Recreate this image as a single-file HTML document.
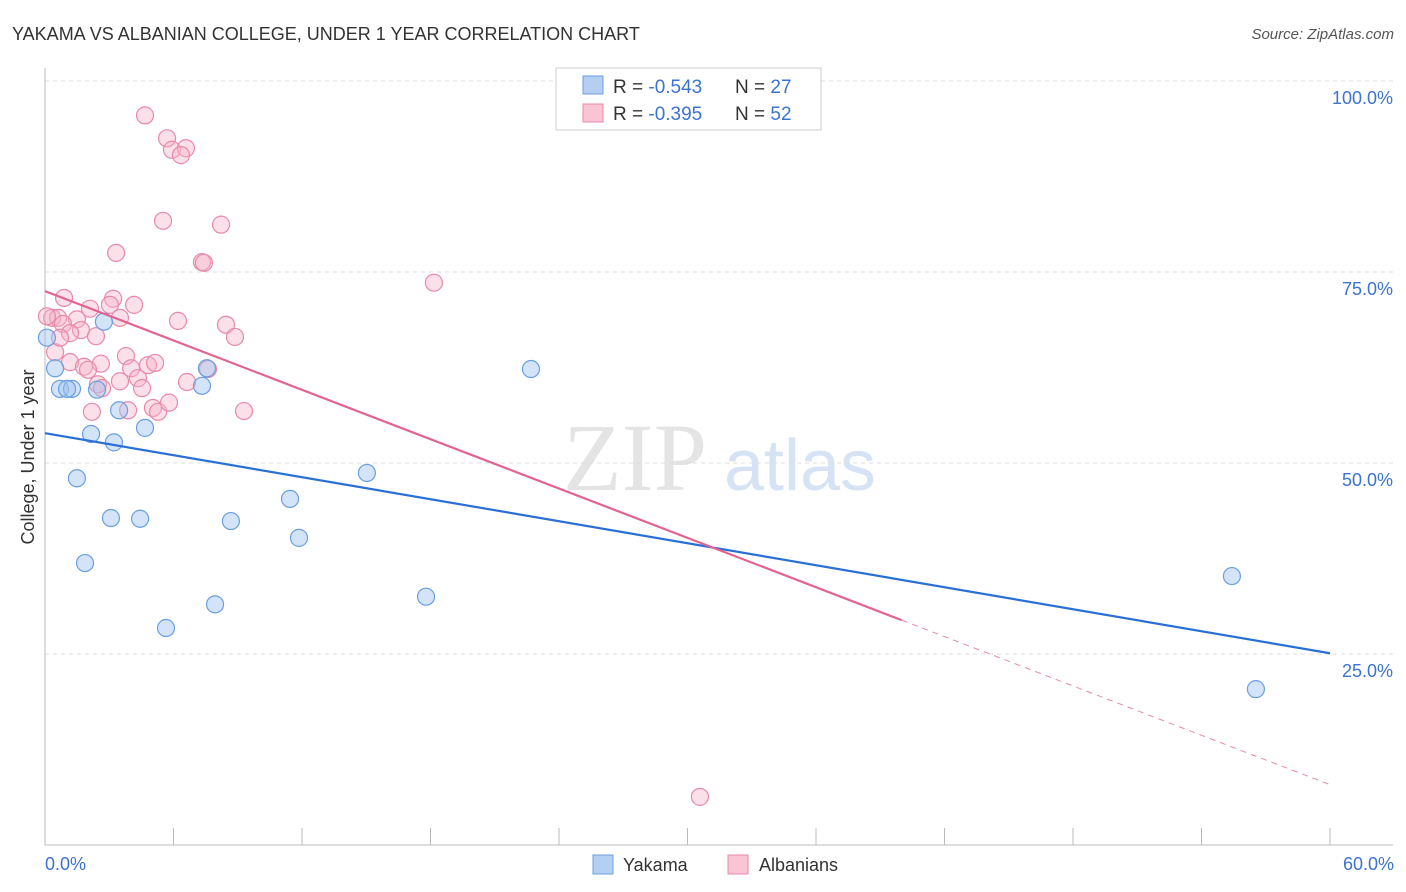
<!DOCTYPE html>
<html><head><meta charset="utf-8"><style>
body{margin:0;background:#fff;font-family:"Liberation Sans",sans-serif;}
svg{display:block}
</style></head><body>
<svg id="chart" width="1406" height="892" xmlns="http://www.w3.org/2000/svg">
<text x="12" y="40" font-size="18" fill="#333">YAKAMA VS ALBANIAN COLLEGE, UNDER 1 YEAR CORRELATION CHART</text>
<text x="1394" y="39" font-size="15" fill="#555" text-anchor="end" font-style="italic">Source: ZipAtlas.com</text>
<text x="635" y="490" font-size="96" fill="#e4e4e4" text-anchor="middle" font-family="Liberation Serif,serif">ZIP</text>
<text x="800" y="490" font-size="72" fill="#d6e3f5" text-anchor="middle">atlas</text>
<g id="grid"></g>
<g id="axes"></g>
<g id="marks"></g>
<text transform="translate(34,457) rotate(-90)" font-size="18" fill="#333" text-anchor="middle">College, Under 1 year</text>
<text x="45" y="870" font-size="18" fill="#3a74d0">0.0%</text>
<text x="1394" y="870" font-size="18" fill="#3a74d0" text-anchor="end">60.0%</text>
<g>
<rect x="556" y="68" width="265" height="62" fill="#fff" stroke="#ccc"/>
<rect x="583" y="76" width="20" height="18" fill="#b5cff3" stroke="#6a9fe0"/>
<rect x="583" y="104" width="20" height="18" fill="#f9c4d4" stroke="#e88aa8"/>
<text x="613" y="93" font-size="19" fill="#333">R = <tspan fill="#3a74d0">-0.543</tspan><tspan x="735">N = </tspan><tspan fill="#3a74d0">27</tspan></text>
<text x="613" y="120" font-size="19" fill="#333">R = <tspan fill="#3a74d0">-0.395</tspan><tspan x="735">N = </tspan><tspan fill="#3a74d0">52</tspan></text>
</g>
<g>
<rect x="593" y="855" width="20" height="19" fill="#b5cff3" stroke="#6a9fe0"/>
<text x="623" y="871" font-size="18" fill="#333">Yakama</text>
<rect x="728" y="855" width="20" height="19" fill="#f9c4d4" stroke="#e88aa8"/>
<text x="759" y="871" font-size="18" fill="#333">Albanians</text>
</g>
</svg>
<script>
const yTicks=[100,75,50,25];
const yTickLabels=["100.0%","75.0%","50.0%","25.0%"];
const xTicks=[0,6,12,18,24,30,36,42,48,54,60];
const yakamaX=[0.09,0.47,0.70,1.26,1.03,2.75,2.43,2.15,3.22,3.46,1.49,1.87,3.08,4.44,4.67,7.56,7.33,8.68,7.94,5.65,11.44,11.86,15.03,17.79,22.69,55.42,56.54];
const yakamaY=[66.4,62.4,59.7,59.7,59.7,68.5,59.6,53.8,52.7,56.9,48.0,36.9,42.8,42.7,54.6,62.4,60.1,42.4,31.5,28.4,45.3,40.2,48.7,32.5,62.3,35.2,20.4];
const albX=[4.67,5.70,5.93,6.58,6.35,5.51,8.22,3.32,7.33,7.42,18.16,0.89,3.18,3.03,4.16,2.10,0.33,0.61,1.49,0.84,3.50,6.21,8.45,1.68,1.17,8.87,0.47,3.78,1.17,1.82,2.61,2.01,4.02,4.81,5.14,7.61,2.47,3.50,4.34,2.66,4.53,6.63,2.19,3.88,5.04,5.28,5.79,9.29,30.58,0.09,2.38,0.70];
const albY=[95.5,92.5,91.0,91.2,90.3,81.7,81.2,77.5,76.3,76.2,73.6,71.6,71.5,70.7,70.7,70.2,69.0,69.0,68.8,68.2,69.0,68.6,68.1,67.4,67.0,66.5,64.5,64.0,63.2,62.6,63.0,62.2,62.4,62.8,63.1,62.3,60.3,60.7,61.1,59.8,59.8,60.6,56.7,56.9,57.2,56.7,57.9,56.8,6.3,69.2,66.6,66.4];
const yakamaTrend=[53.9,25.1];
const albTrend=[72.5,7.9];
const albSolidEnd=40;
const NS="http://www.w3.org/2000/svg";
const sx=v=>45+v*1285/60;
const sy=v=>845-v*7.64;
function mk(tag,attrs,parent){const e=document.createElementNS(NS,tag);for(const k in attrs)e.setAttribute(k,attrs[k]);parent.appendChild(e);return e;}
const grid=document.getElementById('grid'),axes=document.getElementById('axes'),marks=document.getElementById('marks');
yTicks.forEach((t,i)=>{
 const l=mk('line',{x1:45,x2:1393,y1:sy(t),y2:sy(t),stroke:'#ddd','stroke-dasharray':'4,4'},grid);
 
 
 const tx=mk('text',{x:1393,y:sy(t)+23,'font-size':18,fill:'#3a74d0','text-anchor':'end'},grid);
 tx.textContent=yTickLabels[i];
 
 
});
const ya=mk('line',{x1:45,x2:45,y1:68,y2:845,stroke:'#bbb'},axes);


const xa=mk('line',{x1:45,x2:1393,y1:845,y2:845,stroke:'#bbb'},axes);


xTicks.forEach(t=>{
 const l=mk('line',{x1:sx(t),x2:sx(t),y1:828,y2:845,stroke:'#bbb'},axes);
 
 
});
function pts(xs,ys,fill,stroke,name){
 xs.forEach((x,i)=>{
  const c=mk('circle',{cx:sx(x),cy:sy(ys[i]),r:8.5,fill:fill,stroke:stroke,'stroke-width':1.2},marks);
  
  
 });
}
pts(albX,albY,'rgba(246,178,200,0.4)','#e88aa8','albanians-point');
pts(yakamaX,yakamaY,'rgba(160,196,240,0.45)','#6a9fe0','yakama-point');
const at=v=>albTrend[0]+(albTrend[1]-albTrend[0])*v/60;
let l1=mk('line',{x1:sx(0),y1:sy(yakamaTrend[0]),x2:sx(60),y2:sy(yakamaTrend[1]),stroke:'#2a6fd6','stroke-width':2.2},marks);


let l2=mk('line',{x1:sx(0),y1:sy(at(0)),x2:sx(albSolidEnd),y2:sy(at(albSolidEnd)),stroke:'#e2648e','stroke-width':2.2},marks);


let l3=mk('line',{x1:sx(albSolidEnd),y1:sy(at(albSolidEnd)),x2:sx(60),y2:sy(at(60)),stroke:'#e88aa8','stroke-width':1,'stroke-dasharray':'6,5'},marks);


</script>
</body></html>
